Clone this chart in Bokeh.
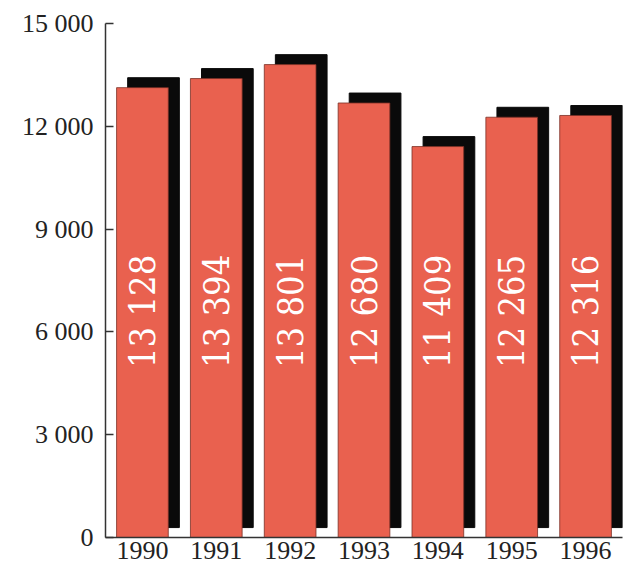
import numpy as np
from bokeh.plotting import figure
from bokeh.models import ColumnDataSource, FixedTicker, Range1d, FactorRange
from bokeh.transform import dodge
from bokeh.embed import file_html
from bokeh.resources import INLINE
from bokeh.core.properties import value

# ---- data ----
years = ["1990", "1991", "1992", "1993", "1994", "1995", "1996"]
values = [13128, 13394, 13801, 12680, 11409, 12265, 12316]
bar_labels = ["13 128", "13 394", "13 801", "12 680", "11 409", "12 265", "12 316"]
y_ticks = [0, 3000, 6000, 9000, 12000, 15000]
y_tick_labels = ["0", "3 000", "6 000", "9 000", "12 000", "15 000"]

# ---- style constants ----
BAR_W = 0.70
SHADOW_DX = 0.15      # in category units
SHADOW_DY = 290       # in data units (~10 px)
LABEL_Y = 6600
RED = "#e9614f"
SERIF = "Liberation Serif"
LABEL_FONT = "DejaVu Serif Condensed"

src = ColumnDataSource(dict(
    year=years,
    value=values,
    label=bar_labels,
    shadow_top=[v + SHADOW_DY for v in values],
    shadow_bottom=[SHADOW_DY] * len(values),
))

p = figure(width=629, height=571, output_backend="svg", toolbar_location=None,
           x_range=FactorRange(factors=years, range_padding=0),
           y_range=Range1d(0, 15000),
           min_border_left=105, min_border_right=7,
           min_border_top=23, min_border_bottom=34)
p.outline_line_color = None
p.grid.visible = False
p.background_fill_color = "white"
p.border_fill_color = "white"

# shadows
p.vbar(x=dodge("year", SHADOW_DX, range=p.x_range), top="shadow_top",
       bottom="shadow_bottom", width=BAR_W, source=src,
       fill_color="#0a0a0a", line_color="#0a0a0a")
# bars
p.vbar(x="year", top="value", bottom=0, width=BAR_W, source=src,
       fill_color=RED, line_color="#7a3026", line_width=0.8)
# labels
p.text(x="year", y=LABEL_Y, text="label", source=src, angle=np.pi / 2,
       text_align="center", text_baseline="middle", text_color="white",
       text_font=value(LABEL_FONT), text_font_size="36px")

# y axis
ya = p.yaxis[0]
ya.ticker = FixedTicker(ticks=y_ticks)
ya.major_label_overrides = {t: l for t, l in zip(y_ticks, y_tick_labels)}
ya.major_tick_in = 8
ya.major_tick_out = 0
ya.minor_tick_line_color = None
ya.axis_line_color = "#333333"
ya.axis_line_width = 1.5
ya.major_tick_line_color = "#333333"
ya.major_tick_line_width = 1.5
ya.major_label_text_font = SERIF
ya.major_label_text_font_size = "26px"
ya.major_label_text_color = "#222222"
ya.major_label_standoff = 12

# x axis
xa = p.xaxis[0]
xa.major_tick_in = 0
xa.major_tick_out = 0
xa.minor_tick_line_color = None
xa.axis_line_color = "#333333"
xa.axis_line_width = 1.5
xa.major_label_text_font = SERIF
xa.major_label_text_font_size = "26px"
xa.major_label_text_color = "#222222"
xa.major_label_standoff = 4

open("out.html", "w").write(file_html(p, INLINE))
